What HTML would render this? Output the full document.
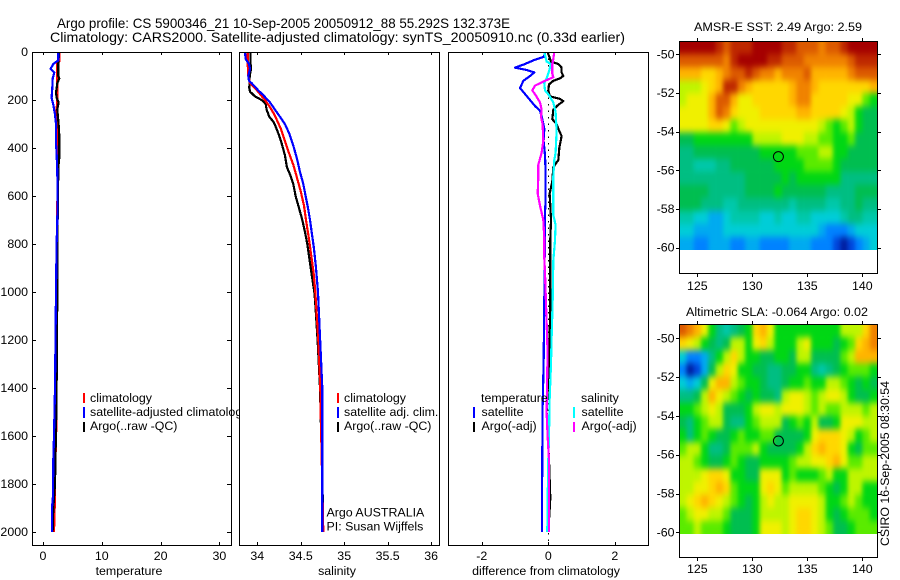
<!DOCTYPE html>
<html lang="en">
<head>
<meta charset="utf-8">
<title>Argo profile CS 5900346_21</title>
<style>
html,body{margin:0;padding:0;background:#fff;}
svg{display:block;font-family:"Liberation Sans",sans-serif;font-size:12.4px;fill:#000;}
</style>
</head>
<body>
<svg id="chart" xmlns="http://www.w3.org/2000/svg" width="900" height="580" viewBox="0 0 900 580">
  <defs>
    <filter id="map-smooth" x="-10%" y="-10%" width="120%" height="120%" color-interpolation-filters="sRGB">
      <feGaussianBlur stdDeviation="2 3.5"/>
      <feComponentTransfer>
        <feFuncA type="linear" slope="100" intercept="0"/>
      </feComponentTransfer>
    </filter>
  </defs>
  <rect x="0" y="0" width="900" height="580" fill="#fff"/>
  <text x="57" y="28" font-size="14" textLength="453" lengthAdjust="spacingAndGlyphs">Argo profile: CS 5900346_21 10-Sep-2005 20050912_88 55.292S 132.373E</text>
  <text x="50" y="42" font-size="14" textLength="575" lengthAdjust="spacingAndGlyphs">Climatology: CARS2000. Satellite-adjusted climatology: synTS_20050910.nc (0.33d earlier)</text>

  <g id="p1"></g>
  <g>
    <rect x="83" y="393" width="2" height="10" fill="#f00"/>
    <rect x="83" y="407" width="2" height="11" fill="#00f"/>
    <rect x="83" y="422" width="2" height="10" fill="#000"/>
    <text x="90" y="402">climatology</text>
    <text x="90" y="416">satellite-adjusted climatology</text>
    <text x="90" y="430">Argo(..raw -QC)</text>
  </g>

  <g id="p2"></g>
  <g>
    <rect x="337" y="393" width="2" height="10" fill="#f00"/>
    <rect x="337" y="407" width="2" height="11" fill="#00f"/>
    <rect x="337" y="422" width="2" height="10" fill="#000"/>
    <text x="344" y="402">climatology</text>
    <text x="344" y="416">satellite adj. clim.</text>
    <text x="344" y="430">Argo(..raw -QC)</text>
    <text x="326.5" y="516.5">Argo AUSTRALIA</text>
    <text x="326.5" y="530.5">PI: Susan Wijffels</text>
  </g>

  <g id="p3"></g>
  <g>
    <text x="481" y="402">temperature</text>
    <text x="581" y="402">salinity</text>
    <rect x="473" y="407" width="2" height="11" fill="#00f"/>
    <rect x="473" y="422" width="2" height="10" fill="#000"/>
    <rect x="573" y="407" width="2" height="11" fill="#0ff"/>
    <rect x="573" y="422" width="2" height="10" fill="#f0f"/>
    <text x="481.5" y="416">satellite</text>
    <text x="481.5" y="430">Argo(-adj)</text>
    <text x="581.5" y="416">satellite</text>
    <text x="581.5" y="430">Argo(-adj)</text>
  </g>

  <g id="m1"></g>
  <g id="m2"></g>
  <text x="778" y="31" text-anchor="middle" textLength="168" lengthAdjust="spacingAndGlyphs">AMSR-E SST: 2.49 Argo: 2.59</text>
  <text x="777" y="316" text-anchor="middle" textLength="182" lengthAdjust="spacingAndGlyphs">Altimetric SLA: -0.064 Argo: 0.02</text>
  <text transform="translate(889,546) rotate(-90)" textLength="165" lengthAdjust="spacingAndGlyphs">CSIRO 16-Sep-2005 08:30:54</text>
</svg>
<script>
// Depth axis ticks and x-axis ticks
const depthTicks = [0,200,400,600,800,1000,1200,1400,1600,1800,2000];
const tempTicks = [0,10,20,30];
const salTicks = [34,34.5,35,35.5,36];
const salTickLabels = ['34','34.5','35','35.5','36'];
const diffTicks = [-2,0,2];
const lonTicks = [125,130,135,140];
const latTicks = [-50,-52,-54,-56,-58,-60];

// Temperature panel
const tempClimDepth = [0,40,50,100,130,200,240,300,500,1000,1400,1650,1700,1850,2000];
const tempClimValue = [2.78,2.78,2.38,2.38,2.44,2.44,2.32,2.32,2.49,2.32,2.32,2.21,2.04,2.04,1.87];
const tempArgoDepth = [0,50,100,110,130,170,190,210,240,300,350,400,440,480,600,800,1000,1400,1500,1800,1900,2000];
const tempArgoValue = [2.72,2.61,2.61,2.77,2.44,2.21,2.32,2.66,2.44,2.66,2.77,2.77,2.77,2.61,2.55,2.44,2.44,2.32,2.27,2.04,1.76,1.64];
const tempSatDepth = [0,35,50,70,85,110,150,190,220,260,300,380,420,500,600,700,800,1000,1400,1600,1700,1850,1900,2000];
const tempSatValue = [2.61,2.61,1.76,1.30,1.93,1.65,1.59,1.47,1.76,2.04,2.21,2.21,2.32,2.44,2.49,2.44,2.32,2.21,2.04,1.87,1.76,1.70,1.53,1.53];

// Salinity panel
const salClimDepth = [0,50,100,130,150,175,200,230,260,290,320,370,420,470,520,580,640,700,780,850,920,1000,1200,1400,1500,2000];
const salClimValue = [33.889,33.889,33.896,33.916,33.973,34.031,34.088,34.146,34.196,34.234,34.272,34.318,34.364,34.414,34.453,34.499,34.537,34.56,34.595,34.621,34.648,34.667,34.702,34.725,34.729,34.76];
const salArgoDepth = [0,50,70,100,150,165,185,200,215,240,270,290,310,350,380,430,480,510,550,600,650,700,750,800,850,900,1000,1030,1200,1400,1900,2000];
const salArgoValue = [33.923,33.923,33.927,33.912,33.908,33.916,33.973,34.05,34.096,34.107,34.138,34.184,34.211,34.253,34.28,34.318,34.341,34.376,34.414,34.441,34.48,34.518,34.549,34.575,34.595,34.614,34.656,34.664,34.694,34.721,34.756,34.748];
const salSatDepth = [0,30,50,70,100,120,130,160,180,210,240,270,300,340,400,450,500,550,600,650,700,760,820,900,1000,1030,1400,2000];
const salSatValue = [33.858,33.866,33.904,33.916,33.896,33.904,33.935,34.012,34.069,34.146,34.203,34.261,34.318,34.368,34.422,34.46,34.491,34.529,34.556,34.583,34.606,34.629,34.652,34.675,34.698,34.702,34.748,34.748];

// Difference panel
const diffTempSatDepth = [0,20,35,50,65,75,85,100,120,150,175,200,225,245,280,320,370,430,500,620,670,1050,1300,1480,1880,2000];
const diffTempSatValue = [-0.10,-0.13,-0.45,-0.70,-1.00,-0.65,-0.42,-0.55,-0.75,-0.85,-0.70,-0.55,-0.40,-0.25,-0.18,-0.12,-0.14,-0.10,-0.08,-0.08,-0.10,-0.12,-0.14,-0.17,-0.19,-0.19];
const diffTempArgoDepth = [0,40,50,65,85,100,110,120,135,160,185,195,205,220,240,280,300,330,350,400,450,480,540,590,640,700,780,1050,1260,1500,1700,1860,2000];
const diffTempArgoValue = [-0.02,0.08,0.30,0.40,0.40,0.45,0.35,0.15,0.02,0,0.05,0.35,0.45,0.30,0.15,0.12,0.25,0.33,0.40,0.33,0.30,0.15,0.12,0.04,0.06,0.08,0.06,0.06,0.03,-0.05,0.02,0.06,0];
const diffSalSatDepth = [0,40,50,80,110,130,160,180,210,250,330,420,450,520,600,680,720,790,870,1050,1190,1300,1450,1600,1700,1880,2000];
const diffSalSatValue = [-0.12,-0.05,0.08,0.02,-0.05,-0.12,-0.10,0.02,0.15,0.22,0.25,0.22,0.18,0.15,0.15,0.15,0.22,0.20,0.15,0.13,0.10,0.08,0.04,0.02,0,-0.02,-0.03];
const diffSalArgoDepth = [0,30,50,90,105,120,140,160,180,210,240,270,300,370,420,470,520,590,640,700,780,860,920,1050,1250,1500,1600,1700,1900,2000];
const diffSalArgoValue = [0.18,0.15,0.12,0.12,0.15,-0.10,-0.40,-0.48,-0.38,-0.25,-0.20,-0.22,-0.17,-0.15,-0.20,-0.30,-0.30,-0.32,-0.25,-0.15,-0.12,-0.12,-0.10,-0.07,-0.02,-0.05,-0.02,0.02,0.02,0.02];

// Float position
const floatLon = 132.373;
const floatLat = -55.292;

// Map grids: colour level per cell, north to south, west to east
const sstGrid = [
[17,17,17,17,17,16,15,16,16,16,17,17,17,17,16,16,15,15,15,14,15,15,16,17,17,17,17],
[15,15,15,15,15,15,14,16,17,17,17,17,16,16,15,15,15,14,14,14,14,14,14,15,16,16,16],
[13,13,13,12,12,13,14,15,15,16,15,14,14,13,14,14,14,15,13,13,13,13,13,14,15,15,15],
[10,10,10,11,12,13,16,16,14,13,12,12,12,12,12,13,14,14,13,12,12,12,12,12,12,12,13],
[10,11,11,11,13,15,15,13,11,11,12,12,12,12,12,13,14,14,12,12,12,12,12,11,11,9,8],
[11,11,11,11,13,15,14,12,11,11,11,12,12,12,12,12,13,13,12,12,12,12,11,10,8,7,7],
[11,11,11,11,12,12,11,9,10,11,11,11,11,11,11,11,11,11,11,10,9,8,9,10,8,7,7],
[7,7,8,8,8,8,8,8,8,8,10,10,10,10,11,11,11,10,10,9,9,8,8,9,7,7,7],
[6,6,7,7,7,7,7,7,7,7,7,8,8,8,8,8,9,9,9,10,10,8,8,7,7,7,7],
[6,6,5,5,5,6,6,7,7,7,7,7,7,8,8,8,8,9,9,9,9,8,7,7,7,7,7],
[6,6,6,6,6,6,6,6,6,7,7,7,7,7,8,7,8,8,8,8,8,8,6,6,6,6,6],
[7,7,7,7,6,6,6,6,6,7,7,7,7,8,7,7,7,7,7,7,6,6,6,6,7,7,7],
[7,7,7,6,6,6,5,5,6,6,6,6,6,6,6,5,6,6,6,6,5,5,6,6,7,6,6],
[5,5,4,4,3,3,4,5,5,5,5,4,4,5,4,4,5,5,4,4,4,4,5,6,6,5,5],
[4,4,3,3,3,3,4,4,4,4,4,4,4,4,4,4,4,4,4,3,2,2,2,3,4,4,4],
[3,3,2,2,3,3,3,2,2,3,3,2,2,2,2,3,3,3,2,2,2,1,0,1,2,3,4]
];
const slaGrid = [
[15,14,13,11,8,6,5,6,7,8,12,13,11,8,8,8,8,8,8,8,8,8,10,10,10,12,14],
[12,11,10,8,7,6,7,10,10,8,11,12,10,8,8,8,10,11,8,8,8,7,8,9,12,13,14],
[4,2,2,3,6,8,10,12,10,8,8,7,7,8,8,7,10,10,7,7,7,7,9,10,13,13,13],
[2,0,1,3,7,10,12,11,8,8,7,7,6,6,7,7,8,8,6,5,6,7,8,9,9,9,8],
[4,3,4,7,11,13,13,10,9,8,8,7,6,6,7,8,8,9,8,8,10,10,9,8,7,8,7],
[6,6,7,10,13,11,10,9,8,7,8,7,7,6,10,11,11,10,9,10,11,11,10,8,7,7,8],
[8,8,9,10,11,10,7,7,7,8,10,11,11,10,11,11,11,10,9,10,9,9,10,10,10,9,10],
[7,6,8,9,10,10,7,6,6,8,9,10,10,10,7,8,9,8,10,7,7,8,11,11,11,10,10],
[8,6,8,9,8,7,7,8,9,8,8,9,9,7,7,7,7,8,11,12,12,12,11,10,8,9,10],
[9,10,10,8,6,6,7,9,9,9,10,8,7,7,7,7,8,10,12,13,12,12,11,8,7,9,9],
[10,10,9,8,7,7,8,9,8,7,7,8,8,8,8,9,10,10,11,11,12,13,11,9,9,10,10],
[10,10,10,11,12,12,11,8,8,7,7,11,11,11,8,9,8,8,8,9,10,8,8,10,10,10,10],
[10,10,11,11,12,13,12,9,8,8,8,11,12,11,9,10,10,10,10,9,8,7,8,10,10,8,8],
[10,11,12,13,12,11,10,9,8,7,8,10,11,10,10,11,11,11,11,10,8,8,9,10,9,8,8],
[9,10,11,11,10,10,9,7,7,7,8,10,10,10,10,11,12,12,11,10,8,7,8,9,9,9,8],
[9,9,10,9,9,9,8,7,7,7,8,11,11,11,10,11,12,12,11,10,9,7,7,8,9,9,9]
];

// Colour ramp for levels 0..17
const ramp = ['#001ea0','#0046dc','#0082ff','#00aaf0','#00cdd7','#00c8aa','#00be82','#00be50','#00d714','#5aeb00','#bef500','#f0f000','#ffd700','#ffb400','#f08200','#dc5a00','#be2800','#a50000'];

const NS = 'http://www.w3.org/2000/svg';
function el(parent, tag, attrs, text) {
  const n = document.createElementNS(NS, tag);
  for (const k in attrs) n.setAttribute(k, attrs[k]);
  if (text !== undefined) n.textContent = text;
  parent.appendChild(n);
  return n;
}

// Axis functions
const yDepth = d => 52 + d * 0.24;
const xTemp = v => 43 + v * 5.88;
const xSal = v => 257.3 + (v - 34) * 86.9;
const xDiff = v => 548.3 + v * 33.25;
const xLon = v => 697.3 + (v - 125) * 11;
const yLat1 = v => 54.3 + (-50 - v) * 19.34;
const yLat2 = v => 338.3 + (-50 - v) * 19.4;

function drawPanel(g, x, w) {
  const bg = el(g, 'rect', {x: x, y: 52.5, width: w, height: 493, fill: '#fff'});
  
  
}
function drawFrame(g, x, w) {
  const fr = el(g, 'rect', {x: x, y: 52.5, width: w, height: 493, fill: 'none', stroke: '#000', 'stroke-width': 1, 'shape-rendering': 'crispEdges'});
  
  
}
function drawXAxis(g, ticks, labels, xf, title, titleX) {
  ticks.forEach((t, i) => {
    const px = Math.round(xf(t)) + 0.5;
    const top = el(g, 'line', {x1: px, x2: px, y1: 52, y2: 55, stroke: '#000', 'shape-rendering': 'crispEdges'});
    
    
    const bot = el(g, 'line', {x1: px, x2: px, y1: 542, y2: 545, stroke: '#000', 'shape-rendering': 'crispEdges'});
    
    
    const lab = el(g, 'text', {x: xf(t), y: 560, 'text-anchor': 'middle'}, labels ? labels[i] : String(t));
    
    
  });
  const tt = el(g, 'text', {x: titleX, y: 575, 'text-anchor': 'middle'}, title);
  
  
}
function drawSeries(g, depths, values, xf, color, name) {
  const pts = depths.map((d, i) => xf(values[i]).toFixed(1) + ',' + yDepth(d).toFixed(1)).join(' ');
  const line = el(g, 'polyline', {points: pts, fill: 'none', stroke: color, 'stroke-width': 2.2, 'stroke-linejoin': 'round', 'shape-rendering': 'crispEdges'});
  
  
}

// Temperature panel
const p1 = document.getElementById('p1');
drawPanel(p1, 32.5, 199);
drawSeries(p1, tempClimDepth, tempClimValue, xTemp, '#f00', 'temperature-climatology-line');
drawSeries(p1, tempArgoDepth, tempArgoValue, xTemp, '#000', 'temperature-argo-line');
drawSeries(p1, tempSatDepth, tempSatValue, xTemp, '#00f', 'temperature-satellite-line');
drawFrame(p1, 32.5, 199);
drawXAxis(p1, tempTicks, null, xTemp, 'temperature', 129);
depthTicks.forEach(d => {
  const py = Math.round(yDepth(d)) + 0.5;
  const tl = el(p1, 'line', {x1: 32, x2: 36, y1: py, y2: py, stroke: '#000', 'shape-rendering': 'crispEdges'});
  
  
  const tr = el(p1, 'line', {x1: 227, x2: 231, y1: py, y2: py, stroke: '#000', 'shape-rendering': 'crispEdges'});
  
  
  const lb = el(p1, 'text', {x: 28, y: yDepth(d) + 4, 'text-anchor': 'end'}, String(d));
  
  
});

// Salinity panel
const p2 = document.getElementById('p2');
drawPanel(p2, 239.5, 200);
drawSeries(p2, salArgoDepth, salArgoValue, xSal, '#000', 'salinity-argo-line');
drawSeries(p2, salClimDepth, salClimValue, xSal, '#f00', 'salinity-climatology-line');
drawSeries(p2, salSatDepth, salSatValue, xSal, '#00f', 'salinity-satellite-line');
drawFrame(p2, 239.5, 200);
drawXAxis(p2, salTicks, salTickLabels, xSal, 'salinity', 337);

// Difference panel
const p3 = document.getElementById('p3');
drawPanel(p3, 448.5, 200);
const zeroLine = el(p3, 'line', {x1: xDiff(0), x2: xDiff(0), y1: 52, y2: 545, stroke: '#000', 'stroke-width': 1, 'stroke-dasharray': '1.5 5', 'shape-rendering': 'crispEdges'});


drawSeries(p3, diffTempSatDepth, diffTempSatValue, xDiff, '#00f', 'difference-temp-satellite-line');
drawSeries(p3, diffTempArgoDepth, diffTempArgoValue, xDiff, '#000', 'difference-temp-argo-line');
drawSeries(p3, diffSalSatDepth, diffSalSatValue, xDiff, '#0ff', 'difference-sal-satellite-line');
drawSeries(p3, diffSalArgoDepth, diffSalArgoValue, xDiff, '#f0f', 'difference-sal-argo-line');
drawFrame(p3, 448.5, 200);
drawXAxis(p3, diffTicks, null, xDiff, 'difference from climatology', 546);

// Maps
function drawMap(g, grid, top, bottom, imgBottom, yLat, labelBase, clipId) {
  const left = 679, right = 877;
  const rows = grid.length, cols = grid[0].length;
  const cw = (right - left) / cols, ch = (imgBottom - top) / rows;
  const clip = el(g, 'clipPath', {id: clipId});
  el(clip, 'rect', {x: left, y: top, width: right - left, height: imgBottom - top});
  const clipGroup = el(g, 'g', {'clip-path': 'url(#' + clipId + ')'});
  
  
  const cells = el(clipGroup, 'g', {filter: 'url(#map-smooth)'});
  
  
  grid.forEach((row, j) => {
    row.forEach((lvl, i) => {
      const cell = el(cells, 'rect', {x: (left + i * cw).toFixed(2), y: (top + j * ch).toFixed(2), width: (cw + 0.3).toFixed(2), height: (ch + 0.3).toFixed(2), fill: ramp[lvl]});
      
      
    });
  });
  const fr = el(g, 'rect', {x: left + 0.5, y: top + 0.5, width: right - left, height: bottom - top, fill: 'none', stroke: '#000', 'shape-rendering': 'crispEdges'});
  
  
  lonTicks.forEach(lon => {
    const px = Math.round(xLon(lon)) + 0.5;
    const t1 = el(g, 'line', {x1: px, x2: px, y1: top - 3, y2: top, stroke: '#000', 'shape-rendering': 'crispEdges'});
    
    
    const t2 = el(g, 'line', {x1: px, x2: px, y1: bottom + 1, y2: bottom + 4, stroke: '#000', 'shape-rendering': 'crispEdges'});
    
    
    const lb = el(g, 'text', {x: xLon(lon), y: labelBase, 'text-anchor': 'middle'}, String(lon));
    
    
  });
  latTicks.forEach(lat => {
    const py = Math.round(yLat(lat)) + 0.5;
    const t1 = el(g, 'line', {x1: left - 3, x2: left, y1: py, y2: py, stroke: '#000', 'shape-rendering': 'crispEdges'});
    
    
    const t2 = el(g, 'line', {x1: right + 1, x2: right + 4, y1: py, y2: py, stroke: '#000', 'shape-rendering': 'crispEdges'});
    
    
    const lb = el(g, 'text', {x: 674.5, y: yLat(lat) + 4, 'text-anchor': 'end'}, String(lat));
    
    
  });
  const marker = el(g, 'circle', {cx: xLon(floatLon), cy: yLat(floatLat), r: 5, fill: 'none', stroke: '#000', 'stroke-width': 1});
  
  
}
drawMap(document.getElementById('m1'), sstGrid, 41, 273, 250, yLat1, 290, 'sst-clip');
drawMap(document.getElementById('m2'), slaGrid, 324, 557, 534, yLat2, 573, 'sla-clip');
</script>
</body>
</html>
